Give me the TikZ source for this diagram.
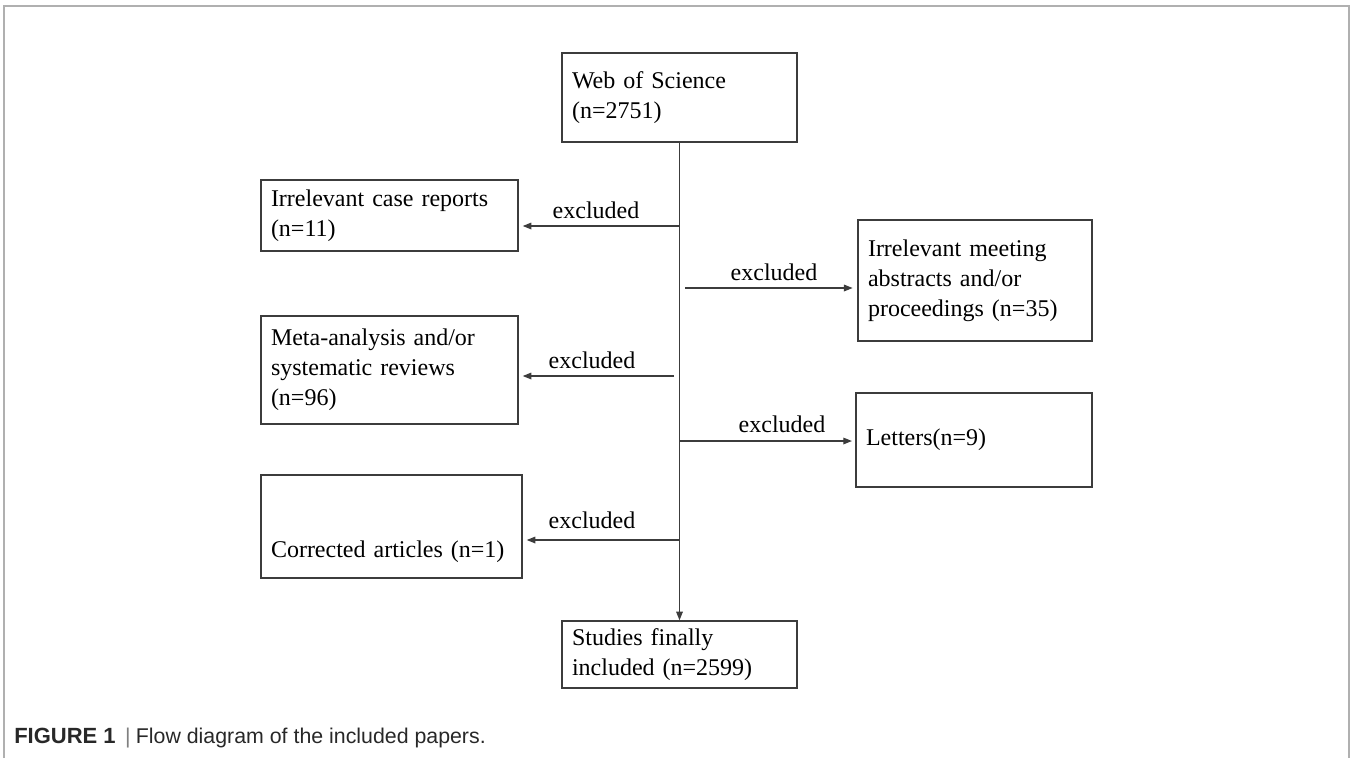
\documentclass[tikz,border=0pt]{standalone}
\usepackage{fontspec}
\setmainfont{Liberation Serif}
\newfontfamily\capfont{Liberation Sans}
\usetikzlibrary{arrows.meta}
\definecolor{linegray}{RGB}{60,60,60}
\definecolor{framegray}{RGB}{176,176,176}
\definecolor{capgray}{RGB}{40,40,40}
\tikzset{
  flowbox/.style={draw=linegray, line width=1.1pt, inner xsep=7.5pt, inner ysep=0pt, align=left, font=\fontsize{18}{22.5}\selectfont},
  exarrow/.style={draw=linegray, line width=0.9pt, -{Triangle[length=6.5pt,width=5pt]}},
  exlabel/.style={anchor=base, inner sep=0.75pt, font=\fontsize{18}{22.5}\selectfont}
}

\begin{document}
\begin{tikzpicture}[x=0.75pt,y=0.75pt,yscale=-1,xscale=1]
\useasboundingbox (0,0) rectangle (1352,758);

%Frame
\draw [framegray, line width=1.5pt] (4,758) -- (4,6) -- (1349,6) -- (1349,758) ;

%Shape: Rectangle
\node [flowbox, text width=161.25pt, minimum height=66.75pt] (wos) at (679.5,97.5) {Web of Science\\(n=2751)};
%Shape: Rectangle
\node [flowbox, text width=177.75pt, minimum height=53.25pt] (case) at (389.5,215.5) {Irrelevant case reports\\(n=11)};
%Shape: Rectangle
\node [flowbox, text width=160.5pt, minimum height=90.75pt] (meet) at (975,280.5) {Irrelevant meeting\\abstracts and/or\\proceedings (n=35)};
%Shape: Rectangle
\node [flowbox, text width=177.75pt, minimum height=81pt] (meta) at (389.5,370) {Meta-analysis and/or\\systematic reviews\\(n=96)};
%Shape: Rectangle
\node [flowbox, text width=162pt, minimum height=70.5pt] (letters) at (974,440) {Letters(n=9)};
%Shape: Rectangle
\node [flowbox, text width=180.75pt, text height=61.5pt, text depth=15.75pt] (corr) at (391.5,526.5) {Corrected articles (n=1)};
%Shape: Rectangle
\node [flowbox, text width=161.25pt, minimum height=50.25pt] (stud) at (679.5,654.5) {Studies finally\\included (n=2599)};

%Straight Lines
\draw [exarrow] (wos.south) -- (stud.north) ;

\coordinate (b1) at (679.5,226);
\coordinate (b2) at (674,376);
\coordinate (b3) at (685,288);
\coordinate (b4) at (679.5,441);
\coordinate (b5) at (679.5,540);

%Straight Lines
\draw [exarrow, shorten >=3pt] (b1) -- (b1 -| case.east) ;
%Straight Lines
\draw [exarrow, shorten >=3pt] (b2) -- (b2 -| meta.east) ;
%Straight Lines
\draw [exarrow, shorten >=3.5pt] (b3) -- (b3 -| meet.west) ;
%Straight Lines
\draw [exarrow, shorten >=2.5pt] (b4) -- (b4 -| letters.west) ;
%Straight Lines
\draw [exarrow, shorten >=3pt] (b5) -- (b5 -| corr.east) ;

% Text Node
\node [exlabel] (ex1) at (596,218) {excluded};
% Text Node
\node [exlabel] (ex2) at (774,280) {excluded};
% Text Node
\node [exlabel] (ex3) at (592,368) {excluded};
% Text Node
\node [exlabel] (ex4) at (782,432) {excluded};
% Text Node
\node [exlabel] (ex5) at (592,528) {excluded};

% Caption
\node [anchor=base west, inner sep=0pt, text=capgray, font=\capfont\fontsize{16}{19}\selectfont] (caption) at (14,743) {{\fontsize{16.5}{19}\selectfont\textbf{FIGURE 1}}\hspace{7pt}{\color{gray}|}\hspace{4pt}Flow diagram of the included papers.};

\end{tikzpicture}
\end{document}
